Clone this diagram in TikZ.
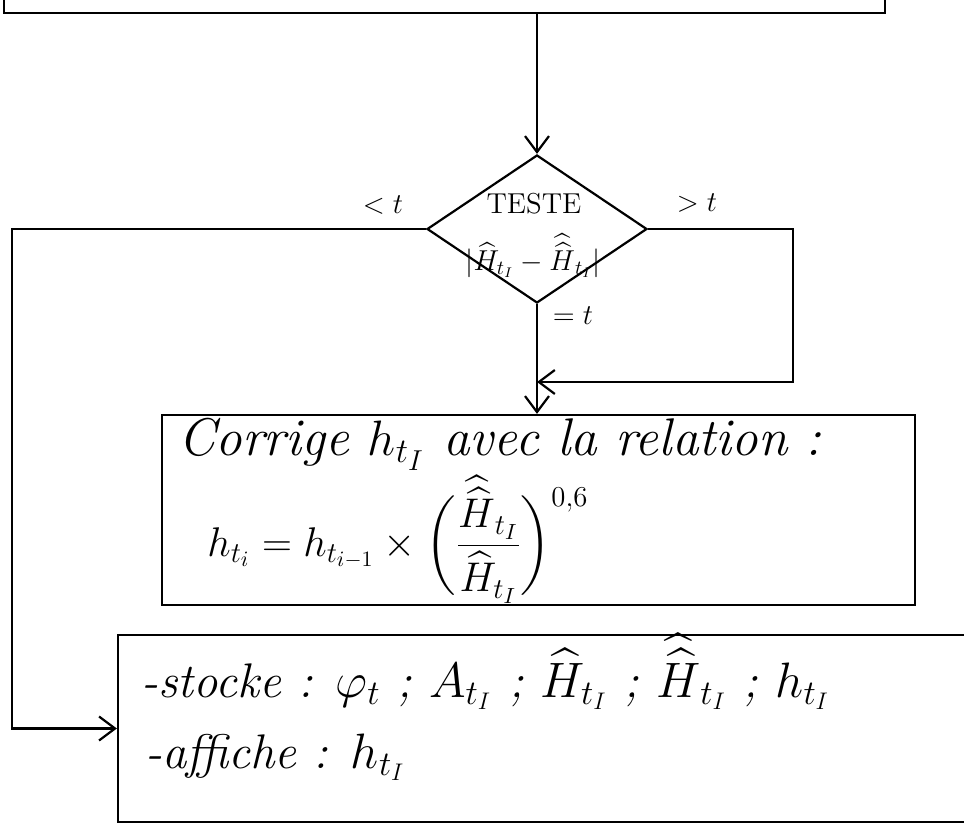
\documentclass[tikz,border=0pt]{standalone}
\usepackage{amsmath}
\usetikzlibrary{positioning, shapes.geometric, arrows.meta}
\tikzset{
	boxnode/.style={
			shape=rectangle,
			draw=black,
			line width=1.1pt,
			inner sep=0pt
		},
	testnode/.style={
			shape=diamond,
			draw=black,
			line width=1.1pt,
			inner sep=0pt
		},
	flow/.style={
			-{Straight Barb[length=8pt,width=12pt,line width=1.1pt]},
			line width=1.1pt
		}
}
\tikzset{
	handtext/.style={font=\fontsize{#1}{#1}\selectfont\itshape, inner sep=0pt, anchor=base west},
	handtext/.default=24.88
}
\tikzset{
	smalltext/.style={font=\Large}
}

\begin{document}
\begin{tikzpicture}[x=0.5pt, y=-0.5pt]
	\useasboundingbox (0,0) rectangle (964,830);

	\node[boxnode, minimum width=440.5pt, minimum height=40pt] (init) at (444.5,-27) {};
	\node[testnode, minimum width=110pt, minimum height=74pt] (test) at (537,229) {};
	\node[boxnode, minimum width=376.5pt, minimum height=95pt] (corr) at (538.5,510) {};
	\node[boxnode, minimum width=445pt, minimum height=93.5pt] (store) at (563,728.5) {};

	\node[smalltext] (testlbl) at (534,204) {TESTE};
	\node[smalltext] (testexpr) at (533,256) {$|\widehat{H}_{t_I}-\widehat{\widehat{H}}_{t_I}|$};

	\node[handtext=26.5] (corrtxt) at (178,455) {Corrige $h_{t_I}$ avec la relation :};
	\node[handtext=22] (corrform) at (207,556)
		{$h_{t_i} = h_{t_{i-1}} \times \bigg(\dfrac{\widehat{\widehat{H}}_{t_I}}{\widehat{H}_{t_I}}\bigg)^{0{,}6}$};

	\node[handtext=24.3] (storetxt) at (141,697)
		{-stocke : $\varphi_t$ ; $A_{t_I}$ ; $\widehat{H}_{t_I}$ ; $\widehat{\widehat{H}}_{t_I}$ ; $h_{t_I}$};
	\node[handtext=24.3] (showtxt) at (145,768) {-affiche : $h_{t_I}$};

	\node[smalltext] (lesslbl) at (383,205) {$<t$};
	\node[smalltext] (morelbl) at (697,203) {$>t$};
	\node[smalltext] (eqlbl) at (573,316) {$=t$};

	\coordinate (lbend) at (12,728.5);
	\coordinate (rbend) at (793,382);

	\draw[flow] (init.south -| test.north) -- (test.north);
	\draw[flow] (test.west) -| (lbend) -- (store.west);
	\draw[flow] (test.east) -| (rbend) -- (rbend -| test.south);
	\draw[flow] (test.south) -- (corr.north -| test.south);

\end{tikzpicture}
\end{document}
